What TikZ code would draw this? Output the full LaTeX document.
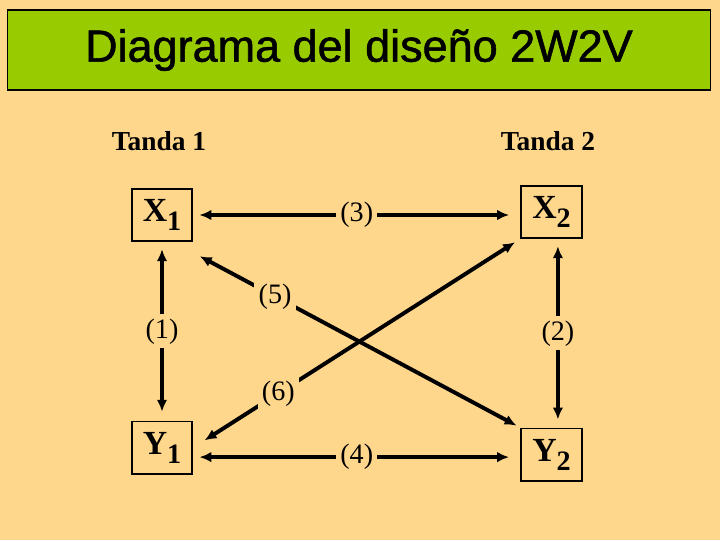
\documentclass[tikz,border=0pt]{standalone}
\usepackage{fontspec}
\setmainfont{Liberation Serif}
\newfontfamily\titlefont[FakeBold=1.2]{Liberation Sans}
\usetikzlibrary{arrows.meta}
\definecolor{fondo}{HTML}{FFD78C}
\definecolor{verde}{HTML}{99CC00}
\newcommand{\indice}[1]{\raisebox{-6.4pt}{\fontsize{20}{20}\selectfont #1}}

\begin{document}
\begin{tikzpicture}[x=0.025cm, y=-0.025cm, line width=2.8pt, >={Latex[length=8.5pt, width=7.5pt]},
        var/.style={draw, line width=1.4pt, minimum width=1.52cm, minimum height=1.3cm, inner sep=0pt, font=\fontsize{24}{24}\selectfont\bfseries},
        lbl/.style={fill=fondo, inner sep=3pt, font=\fontsize{20}{20}\selectfont},
        tanda/.style={font=\fontsize{19.5}{19.5}\selectfont\bfseries}]
        \fill[fondo] (0,0) rectangle (720,540);
        \node[draw, fill=verde, line width=0.8pt, minimum width=17.55cm, minimum height=2cm, font=\titlefont\fontsize{32}{32}\selectfont] (titulo) at (359,50) {Diagrama del diseño 2W2V};

        \node[tanda] (tanda1) at (159,141) {Tanda 1};
        \node[tanda] (tanda2) at (548,141) {Tanda 2};

        \node[var] (x1) at (162,215) {X\indice{1}};
        \node[var] (x2) at (551.5,212) {X\indice{2}};
        \node[var] (y1) at (162,447.5) {Y\indice{1}};
        \node[var] (y2) at (551.5,454.5) {Y\indice{2}};

        \draw[<->, shorten <=0.15cm, shorten >=0.275cm] (x1) -- node[lbl] (l3) {(3)} (x1 -| x2.west);
        \draw[<->, shorten <=0.15cm, shorten >=0.275cm] ([yshift=-0.24cm]y1.east) -- node[lbl] (l4) {(4)} ([yshift=-0.24cm]y1.east -| y2.west);
        \draw[<->, shorten <=0.18cm, shorten >=0.22cm] (x1.south) -- node[lbl] (l1) {(1)} (y1.north);
        \draw[<->, shorten <=0.18cm, shorten >=0.2cm] ([xshift=0.16cm]x2.south) -- node[lbl] (l2) {(2)} ([xshift=0.16cm]y2.north);
        \draw[<->, shorten <=0.18cm, shorten >=0.1cm] ([yshift=-0.27cm]x1.south east) -- node[lbl, pos=0.25] (l5) {(5)} (y2.north west);
        \draw[<->, shorten <=0.33cm, shorten >=0.15cm] (y1.east) -- node[lbl, pos=0.26] (l6) {(6)} (x2.south west);
    \end{tikzpicture}
\end{document}
